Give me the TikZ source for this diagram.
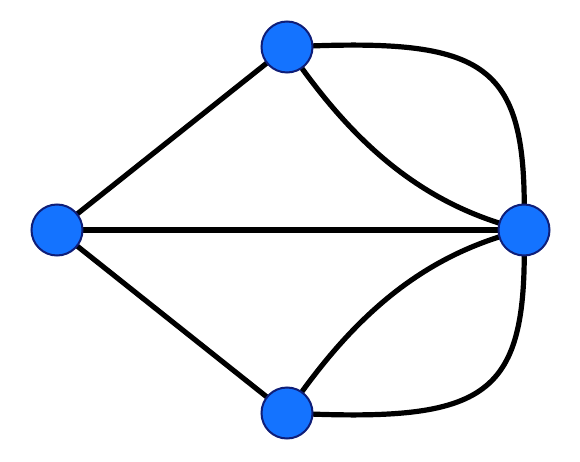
\documentclass[tikz,border=0pt]{standalone}
\begin{document}
\begin{tikzpicture}[x=1pt,y=-1pt,
  vert/.style={circle,draw={rgb,255:red,15;green,30;blue,120},fill={rgb,255:red,20;green,115;blue,255},line width=2pt,minimum size=51pt,inner sep=0pt},
  edge/.style={line width=5.2pt,black}]
\useasboundingbox (0,0) rectangle (580,462);
\coordinate (cl) at (57,230);
\coordinate (ct) at (287,47);
\coordinate (cr) at (524,230);
\coordinate (cb) at (287,413);
\draw[edge] (cl) -- (ct);
\draw[edge] (cl) -- (cb);
\draw[edge] (cl) -- (cr);
\draw[edge] (ct) .. controls (490,37) and (528,62) .. (cr);
\draw[edge] (ct) .. controls (350,140) and (420,205) .. (cr);
\draw[edge] (cb) .. controls (490,423) and (528,398) .. (cr);
\draw[edge] (cb) .. controls (350,320) and (420,255) .. (cr);
\node[vert] (l) at (cl) {};
\node[vert] (t) at (ct) {};
\node[vert] (r) at (cr) {};
\node[vert] (b) at (cb) {};
\end{tikzpicture}
\end{document}
